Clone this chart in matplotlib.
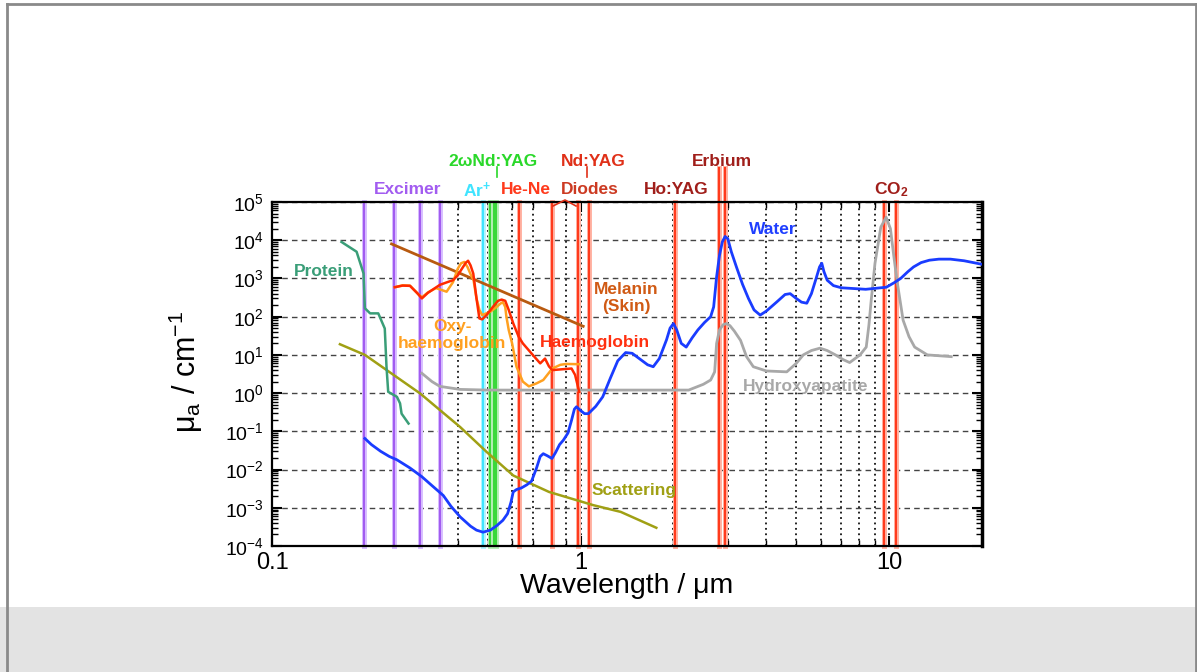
import matplotlib
matplotlib.use("Agg")
import matplotlib.pyplot as plt
from matplotlib.patches import Rectangle
from matplotlib.lines import Line2D
from matplotlib.ticker import LogLocator, NullFormatter

plt.rcParams['font.family'] = ['Liberation Sans', 'DejaVu Sans']
plt.rcParams['mathtext.fontset'] = 'custom'
plt.rcParams['mathtext.rm'] = 'Liberation Sans'
plt.rcParams['mathtext.it'] = 'Liberation Sans:italic'
plt.rcParams['mathtext.bf'] = 'Liberation Sans:bold'

# ---------------- data ----------------
water_x = [0.2, 0.21, 0.225, 0.24, 0.254, 0.28, 0.306, 0.33, 0.359, 0.38, 0.407, 0.44, 0.46,
           0.483, 0.51, 0.535, 0.56, 0.58, 0.595, 0.605, 0.62, 0.643, 0.67, 0.694, 0.72,
           0.74, 0.757, 0.78, 0.808, 0.83, 0.855, 0.88, 0.91, 0.935, 0.955, 0.97, 1.0,
           1.03, 1.06, 1.12, 1.18, 1.25, 1.32, 1.4, 1.47, 1.55, 1.65, 1.72, 1.8, 1.9,
           1.95, 2.0, 2.05, 2.12, 2.2, 2.3, 2.4, 2.52, 2.64, 2.7, 2.76, 2.82, 2.88, 2.94,
           3.0, 3.08, 3.2, 3.35, 3.5, 3.65, 3.82, 4.0, 4.33, 4.6, 4.78, 5.0, 5.2, 5.41,
           5.6, 5.8, 5.95, 6.05, 6.15, 6.3, 6.6, 7.0, 8.4, 9.8, 10.4, 10.9, 11.5, 12.0,
           12.7, 13.5, 14.5, 15.8, 17.5, 19.7, 20.0]
water_y = [0.065, 0.045, 0.03, 0.022, 0.018, 0.011, 0.0065, 0.0038, 0.0021, 0.0011, 5.8e-4, 3.3e-4, 2.6e-4,
           2.3e-4, 2.6e-4, 3.4e-4, 4.7e-4, 7e-4, 1.4e-3, 2.6e-3, 3.0e-3, 3.3e-3, 4.0e-3, 5.0e-3, 0.011,
           0.022, 0.026, 0.023, 0.0195, 0.028, 0.045, 0.059, 0.09, 0.195, 0.38, 0.44, 0.35,
           0.29, 0.29, 0.45, 0.8, 2.5, 7.0, 11.5, 11.0, 8.0, 5.5, 4.9, 8.0, 25.0,
           50.0, 66.0, 45.0, 20.0, 16.0, 28.0, 45.0, 70.0, 100.0, 180.0, 1100.0, 4000.0, 9000.0, 12500.0,
           11000.0, 5000.0, 2000.0, 700.0, 300.0, 150.0, 110.0, 140.0, 245.0, 380.0, 400.0, 300.0, 240.0, 225.0,
           400.0, 1000.0, 2000.0, 2500.0, 1500.0, 900.0, 650.0, 570.0, 520.0, 590.0, 780.0, 1000.0, 1500.0, 2000.0,
           2600.0, 3000.0, 3200.0, 3200.0, 2900.0, 2400.0, 2350.0]

hydroxy_x = [0.306, 0.33, 0.35, 0.407, 0.5, 1.0, 2.24, 2.5, 2.64, 2.72, 2.76, 2.82, 2.9, 2.97,
             3.05, 3.15, 3.3, 3.45, 3.63, 4.0, 4.66, 5.0, 5.27, 5.6, 5.97, 6.3, 6.7, 7.1,
             7.45, 8.05, 8.43, 8.6, 8.75, 9.0, 9.4, 9.78, 10.1, 10.35, 10.6, 11.1, 11.6,
             12.1, 13.3, 15.9]
hydroxy_y = [3.3, 2.0, 1.5, 1.25, 1.2, 1.2, 1.2, 1.7, 2.2, 3.6, 20.0, 45.0, 62.0, 66.0,
             58.0, 42.0, 24.0, 9.0, 4.9, 3.8, 3.6, 6.0, 10.0, 13.0, 15.0, 13.0, 10.0, 7.5,
             6.3, 10.0, 16.0, 60.0, 270.0, 2500.0, 22000.0, 40000.0, 20000.0, 4000.0, 900.0, 81.0, 30.0,
             16.0, 10.0, 9.0]

melanin_x = [0.244, 1.02]
melanin_y = [8000.0, 56.0]

hb_x = [0.25, 0.265, 0.28, 0.295, 0.306, 0.32, 0.35, 0.37, 0.386, 0.40, 0.41, 0.425, 0.432,
        0.44, 0.449, 0.455, 0.46, 0.47, 0.48, 0.496, 0.52, 0.54, 0.555, 0.57, 0.585, 0.605,
        0.63, 0.65, 0.70, 0.74, 0.767, 0.79, 0.81, 0.87, 0.935, 0.96, 0.99]
hb_y = [590.0, 650.0, 640.0, 420.0, 300.0, 420.0, 680.0, 800.0, 900.0, 1200.0, 1660.0, 2600.0, 2900.0,
        2200.0, 1350.0, 600.0, 300.0, 90.0, 85.0, 110.0, 180.0, 260.0, 280.0, 260.0, 150.0, 67.0,
        30.0, 20.0, 10.0, 6.0, 8.0, 5.0, 4.0, 4.2, 4.4, 3.0, 1.08]

oxy_x = [0.25, 0.265, 0.28, 0.295, 0.306, 0.32, 0.34, 0.368, 0.386, 0.40, 0.41, 0.42, 0.43,
         0.44, 0.45, 0.46, 0.47, 0.48, 0.51, 0.53, 0.55, 0.56, 0.57, 0.575, 0.585, 0.6,
         0.62, 0.65, 0.68, 0.72, 0.757, 0.81, 0.86, 0.90, 0.99]
oxy_y = [590.0, 660.0, 650.0, 420.0, 320.0, 430.0, 560.0, 450.0, 800.0, 1800.0, 2500.0, 2700.0, 2000.0,
         1300.0, 900.0, 300.0, 150.0, 110.0, 135.0, 170.0, 220.0, 240.0, 180.0, 100.0, 45.0, 20.0,
         4.9, 2.0, 1.5, 1.8, 2.2, 4.4, 5.5, 5.8, 5.7]

protein_x = [0.168, 0.188, 0.198, 0.2, 0.208, 0.221, 0.232, 0.235, 0.238, 0.254, 0.26, 0.263, 0.277]
protein_y = [9000.0, 5000.0, 1350.0, 166.0, 122.0, 122.0, 49.0, 4.9, 1.08, 0.8, 0.54, 0.29, 0.16]

scatter_x = [0.166, 0.2, 0.302, 0.407, 0.496, 0.605, 0.79, 1.1, 1.35, 1.76]
scatter_y = [19.0, 10.0, 0.98, 0.13, 0.029, 0.007, 0.0026, 0.00117, 7.8e-4, 3e-4]

excimer_lines = [0.199, 0.249, 0.302, 0.351]
argon_lines = [0.482]
green_lines = [0.51, 0.523, 0.533]
red_lines = [0.633, 0.81, 0.98, 1.064, 2.03]
erbium_lines = [2.80, 2.94]
co2_lines = [9.6, 10.55]

x_ticks = [0.1, 1, 10]
x_ticklabels = ['0.1', '1', '10']
y_exponents = [-4, -3, -2, -1, 0, 1, 2, 3, 4, 5]

# ---------------- figure ----------------
W, H = 1197, 672
fig = plt.figure(figsize=(W / 100, H / 100), dpi=100)
fig.patch.set_facecolor('white')

def fx(p):
    return p / W

def fy(p):
    return 1 - p / H

# slide background band and frame
fig.patches.append(Rectangle((0, 0), 1, fy(607), transform=fig.transFigure,
                             facecolor='#e3e3e3', edgecolor='none', zorder=0))
for xs, ys in [([fx(7), fx(7)], [fy(4), 0]), ([fx(7), fx(1196)], [fy(4), fy(4)]),
               ([fx(1195.5), fx(1195.5)], [fy(4), 0])]:
    fig.add_artist(Line2D(xs, ys, transform=fig.transFigure, color='#8a8a8a', lw=2))

ax = fig.add_axes([fx(272), fy(546), (982 - 272) / W, (546 - 202) / H])
ax.set_xscale('log')
ax.set_yscale('log')
ax.set_xlim(0.1, 20)
ax.set_ylim(1e-4, 1e5)

ax.set_xticks(x_ticks)
ax.set_xticklabels(x_ticklabels, fontsize=17)
ax.xaxis.set_minor_locator(LogLocator(base=10, subs=range(2, 10), numticks=20))
ax.xaxis.set_minor_formatter(NullFormatter())
ax.set_yticks([10.0 ** e for e in y_exponents])
ax.set_yticklabels([r'$\mathregular{10^{%d}}$' % e for e in y_exponents], fontsize=14)
ax.yaxis.set_minor_locator(LogLocator(base=10, subs=range(2, 10), numticks=20))
ax.yaxis.set_minor_formatter(NullFormatter())

ax.grid(True, axis='x', which='both', color='#111111', lw=1.3, linestyle=(0, (1, 2)), zorder=1)
ax.grid(True, axis='y', which='major', color='#444444', lw=1.0, linestyle=(0, (4, 3)), zorder=1)
ax.set_axisbelow(True)

ax.tick_params(which='both', direction='in', top=True, right=True, color='black')
ax.tick_params(which='major', length=7, width=1.5)
ax.tick_params(which='minor', length=4, width=1.0)
ax.tick_params(axis='x', pad=4)
ax.tick_params(axis='y', pad=6)
for side in ['left', 'bottom', 'top']:
    ax.spines[side].set_linewidth(1.6)
ax.spines['right'].set_linewidth(2.5)

# laser lines
def laser(xv, col, halo, top=1.0):
    ax.axvline(xv, ymin=0, ymax=top, color=halo, lw=3.6, zorder=2, clip_on=False)
    ax.axvline(xv, ymin=0, ymax=top, color=col, lw=1.5, zorder=2.1, clip_on=False)

for v in excimer_lines:
    laser(v, '#a25cf0', '#d8c0ff')
for v in argon_lines:
    laser(v, '#40e4ff', '#b8f4ff')
for v in green_lines:
    laser(v, '#3ad83a', '#b8f0b8')
for v in red_lines:
    laser(v, '#ff3a1c', '#ffb4a4')
for v in erbium_lines:
    laser(v, '#ff3a1c', '#ffb4a4', top=1 + (202 - 168) / 344)
for v in co2_lines:
    laser(v, '#ff3a1c', '#ffb4a4')

# curves
ax.plot(scatter_x, scatter_y, color='#a0a014', lw=1.8, zorder=3)
ax.plot(hydroxy_x, hydroxy_y, color='#a8a8a8', lw=2.0, zorder=3)
ax.plot(protein_x, protein_y, color='#3a9e78', lw=1.8, zorder=3)
ax.plot(melanin_x, melanin_y, color='#b85a10', lw=2.0, zorder=3)
ax.plot(oxy_x, oxy_y, color='#ffa020', lw=1.8, zorder=3.1)
ax.plot(hb_x, hb_y, color='#ff2a00', lw=1.8, zorder=3.2)
ax.plot(water_x, water_y, color='#1a3cff', lw=2.0, zorder=3.3)

# axis labels
fig.text(fx(627), fy(586), 'Wavelength / μm', fontsize=20.5, ha='center', va='center')
fig.text(fx(186), fy(372), r'μ$_\mathregular{a}$ / cm$^\mathregular{-1}$', rotation=90,
         fontsize=22, ha='center', va='center')

# text labels
def lab(px, py, s, c, fs=12.5):
    fig.text(fx(px), fy(py), s, color=c, fontsize=fs, fontweight='bold', ha='center', va='center')

lab(493, 161, '2ωNd:YAG', '#2ad82a')
lab(593, 161, 'Nd:YAG', '#e03018')
lab(722, 161, 'Erbium', '#a01e1a')
lab(408, 190, 'Excimer', '#a25cf0')
lab(477, 190, r'Ar$^\mathbf{+}$', '#40e4ff')
lab(526, 190, 'He-Ne', '#ff3a1c')
lab(590, 190, 'Diodes', '#cc3a22')
lab(676, 190, 'Ho:YAG', '#a01e1a')
lab(891, 190, r'CO$_\mathbf{2}$', '#a01e1a')

fig.add_artist(Line2D([fx(497), fx(497)], [fy(167), fy(177)], transform=fig.transFigure,
                      color='#2ad82a', lw=1.2))
fig.add_artist(Line2D([fx(587), fx(587)], [fy(167), fy(177)], transform=fig.transFigure,
                      color='#e03018', lw=1.2))
fig.add_artist(Line2D([fx(553), fx(565), fx(576)], [fy(206), fy(200), fy(206)],
                      transform=fig.transFigure, color='#e03018', lw=1.2))

lab(324, 271, 'Protein', '#3a9e78')
lab(452, 335, 'Oxy-\nhaemoglobin', '#ffa020')
lab(626, 298, 'Melanin\n(Skin)', '#d05a14')
lab(595, 343, 'Haemoglobin', '#ff3010')
lab(773, 229, 'Water', '#1f3fff')
lab(806, 386, 'Hydroxyapatite', '#a8a8a8')
lab(634, 491, 'Scattering', '#a0a014')

fig.savefig('out.png', dpi=100)
